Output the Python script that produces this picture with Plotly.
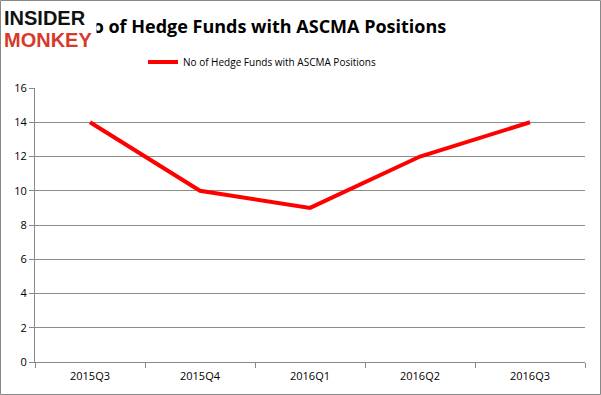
import plotly.graph_objects as go

quarters = ["2015Q3", "2015Q4", "2016Q1", "2016Q2", "2016Q3"]
hedge_funds = [14, 10, 9, 12, 14]
series_name = "No of Hedge Funds with ASCMA Positions"
title_text = "No of Hedge Funds with ASCMA Positions"

W, H = 601, 395
L, R, T, B = 35, 16, 88, 33
pw, ph = W - L - R, H - T - B

def px(x):
    return (x - L) / pw

def py(y):
    return (H - B - y) / ph

fig = go.Figure()
fig.add_trace(go.Scatter(
    x=quarters, y=hedge_funds, mode="lines", name=series_name,
    line=dict(color="#ff0000", width=4), showlegend=True,
))

fig.update_layout(
    width=W, height=H,
    margin=dict(l=L, r=R, t=T, b=B),
    paper_bgcolor="white", plot_bgcolor="white",
    font=dict(family="Open Sans", size=11, color="#000"),
    showlegend=True,
    legend=dict(orientation="h", x=px(262), xanchor="center", y=py(62), yanchor="middle",
                font=dict(size=10, family="Open Sans"), itemwidth=30, bgcolor="rgba(0,0,0,0)"),
    xaxis=dict(range=[-0.5, 4.5], showgrid=False, showline=True, linecolor="#888888", linewidth=1,
               ticks="outside", tickson="boundaries", ticklen=5, tickcolor="#888888",
               tickfont=dict(size=11), zeroline=False, ticklabelstandoff=4),
    yaxis=dict(range=[0, 16], dtick=2, showgrid=True, gridcolor="#8c8c8c", gridwidth=1,
               showline=True, linecolor="#888888", linewidth=1, ticks="outside", ticklen=5,
               tickcolor="#888888", tickfont=dict(size=11), zeroline=False),
    shapes=[dict(type="rect", xref="paper", yref="paper",
                 x0=px(0.5), x1=px(600.5), y0=py(394.5), y1=py(0.5),
                 line=dict(color="#888888", width=1), layer="below")],
    annotations=[
        dict(text="<b>" + title_text + "</b>", xref="paper", yref="paper", x=px(262), y=py(26),
             xanchor="center", yanchor="middle", showarrow=False,
             font=dict(size=18, family="Open Sans", color="#000")),
        dict(text="<b>INSIDER</b>", xref="paper", yref="paper", x=px(3), y=py(18),
             xanchor="left", yanchor="middle", showarrow=False, bgcolor="white",
             width=92, height=22, align="left", borderpad=0,
             font=dict(size=20, family="Liberation Sans", color="#111")),
        dict(text="<b>MONKEY</b>", xref="paper", yref="paper", x=px(3), y=py(40),
             xanchor="left", yanchor="middle", showarrow=False, bgcolor="white",
             width=92, height=22, align="left", borderpad=0,
             font=dict(size=20, family="Liberation Sans", color="#d63a2a")),
    ],
)

fig.write_html("out.html", post_script="document.body.style.margin='0px';",
               config={"displayModeBar": False})
